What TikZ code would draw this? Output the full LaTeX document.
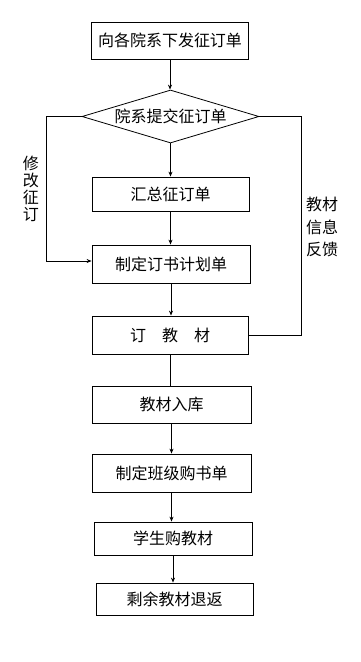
\documentclass[tikz,border=0pt]{standalone}
\usepackage{fontspec}
\setmainfont{Noto Sans CJK SC}
\usetikzlibrary{shapes.geometric,arrows.meta}
\begin{document}
\begin{tikzpicture}[x=1pt,y=-1pt,
  font=\fontsize{16}{18}\selectfont,
  line width=0.8pt,
  stepbox/.style={draw,rectangle,inner sep=0pt},
  arr/.style={-{Stealth[length=5pt,width=4pt]}}]
\useasboundingbox (0,0) rectangle (361,662);
\node[stepbox,minimum width=157pt,minimum height=37pt] (b1) at (170,40.5) {向各院系下发征订单};
\node[draw,diamond,inner sep=0pt,aspect=3.3,minimum width=177pt,minimum height=53pt] (d) at (170.5,116.5) {院系提交征订单};
\node[stepbox,minimum width=157pt,minimum height=34pt] (b2) at (170.5,194) {汇总征订单};
\node[stepbox,minimum width=158pt,minimum height=38pt] (b3) at (171,264) {制定订书计划单};
\node[stepbox,minimum width=156pt,minimum height=38pt] (b4) at (170,335) {订\hspace{1em}教\hspace{1em}材};
\node[stepbox,minimum width=159pt,minimum height=37pt] (b5) at (171.5,404.5) {教材入库};
\node[stepbox,minimum width=159pt,minimum height=38pt] (b6) at (171.5,473) {制定班级购书单};
\node[stepbox,minimum width=158pt,minimum height=33pt] (b7) at (173,538.5) {学生购教材};
\node[stepbox,minimum width=157pt,minimum height=32pt] (b8) at (174.5,599) {剩余教材退返};
\draw[arr] (b1.south) -- (b1.south |- d.north);
\draw[arr] (d.south) -- (d.south |- b2.north);
\draw[arr] (b2.south) -- (b2.south |- b3.north);
\draw[arr] (b3.south) -- (b3.south |- b4.north);
\draw (b4.south) -- (b4.south |- b5.north);
\draw[arr] (b5.south) -- (b5.south |- b6.north);
\draw[arr] (b6.south) -- (b6.south |- b7.north);
\draw[arr] (b7.south) -- (b7.south |- b8.north);
\coordinate (lc) at (46,261);
\coordinate (rc) at (301.5,335);
\draw[arr] (d.west) -| (lc) -- (lc -| b3.west);
\draw (b4.east) -- (b4.east -| rc) |- (d.east);
\node[align=center,inner sep=0pt,font=\fontsize{16}{17}\selectfont] (lab1) at (31,189) {修\\改\\征\\订};
\node[align=center,inner sep=0pt,font=\fontsize{16}{22.5}\selectfont] (lab2) at (322,227) {教材\\信息\\反馈};
\end{tikzpicture}
\end{document}
